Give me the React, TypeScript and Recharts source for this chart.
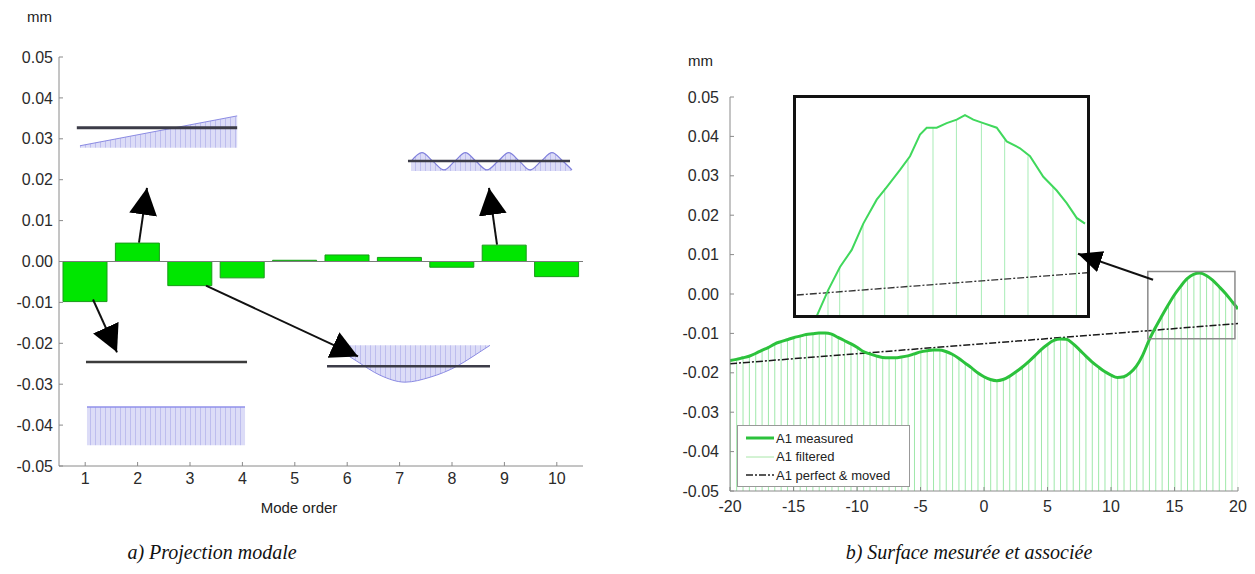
import React from 'react';
import { ComposedChart, Bar, Line, Area, XAxis, YAxis, ReferenceLine, ReferenceArea } from 'recharts';

// ---------- Left chart: modal projection ----------
const modeOrder = [1, 2, 3, 4, 5, 6, 7, 8, 9, 10];
const modeAmplitude = [-0.0098, 0.0045, -0.0059, -0.004, 0.0003, 0.0016, 0.001, -0.0014, 0.004, -0.0037];
const mmTicks = [0.05, 0.04, 0.03, 0.02, 0.01, 0, -0.01, -0.02, -0.03, -0.04, -0.05];
const modeTicks = [1, 2, 3, 4, 5, 6, 7, 8, 9, 10];

// Mode-shape sketches (x in mode-order units, y in mm)
const tiltRef = [{ x: 0.84, y: 0.0327 }, { x: 3.9, y: 0.0327 }];
const tiltShape = [{ x: 0.9, lo: 0.0278, hi: 0.0283 }, { x: 3.9, lo: 0.0278, hi: 0.0356 }];
const transRef = [{ x: 1.015, y: -0.0246 }, { x: 4.088, y: -0.0246 }];
const transShape = [{ x: 1.034, lo: -0.0449, hi: -0.0356 }, { x: 4.05, lo: -0.0449, hi: -0.0356 }];
const bowRef = [{ x: 5.615, y: -0.0256 }, { x: 8.725, y: -0.0256 }];
const bowX = [5.767, 6.187, 6.626, 7.103, 7.58, 8.095, 8.401, 8.725];
const bowLow = [-0.021, -0.0244, -0.0278, -0.0295, -0.0283, -0.0256, -0.0232, -0.0205];
const bowTop = -0.0205;
const waveRef = [{ x: 7.16, y: 0.0246 }, { x: 10.252, y: 0.0246 }];
const waveX = [7.218, 7.427, 7.637, 7.847, 8.05, 8.256, 8.458, 8.668, 8.878, 9.082, 9.288, 9.489, 9.698, 9.908, 10.118, 10.29];
const waveY = [0.0245, 0.0266, 0.0245, 0.0224, 0.0245, 0.0266, 0.0245, 0.0224, 0.0245, 0.0266, 0.0245, 0.0224, 0.0245, 0.0266, 0.0245, 0.0224];
const waveBase = 0.0221;

const arrowMode1 = [{ x: 1.149, y: -0.0093 }, { x: 1.607, y: -0.0222 }];
const arrowMode2 = [{ x: 2.027, y: 0.0046 }, { x: 2.179, y: 0.018 }];
const arrowMode3 = [{ x: 3.305, y: -0.0059 }, { x: 6.206, y: -0.0232 }];
const arrowMode9 = [{ x: 8.859, y: 0.0041 }, { x: 8.706, y: 0.018 }];

// ---------- Right chart: measured & associated surface ----------
const positions = [
  -20, -19.5, -19, -18.5, -18, -17.5, -17, -16.5, -16, -15.5, -15, -14.5, -14, -13.5, -13, -12.5, -12, -11.5, -11, -10.5,
  -10, -9.5, -9, -8.5, -8, -7.5, -7, -6.5, -6, -5.5, -5, -4.5, -4, -3.5, -3, -2.5, -2, -1.5, -1, -0.5,
  0, 0.5, 1, 1.5, 2, 2.5, 3, 3.5, 4, 4.5, 5, 5.5, 6, 6.5, 7, 7.5, 8, 8.5, 9, 9.5,
  10, 10.5, 11, 11.5, 12, 12.5, 13, 13.5, 14, 14.5, 15, 15.5, 16, 16.5, 17, 17.5, 18, 18.5, 19, 19.5, 20,
];
const measured = [
  -0.0169, -0.0166, -0.0162, -0.0158, -0.0151, -0.0143, -0.0136, -0.0127, -0.0121, -0.0116, -0.0111, -0.0107, -0.0103, -0.0101, -0.0099, -0.0099, -0.0102, -0.011, -0.0118, -0.0126,
  -0.0135, -0.0146, -0.0152, -0.0157, -0.0161, -0.0162, -0.0162, -0.016, -0.0157, -0.0152, -0.0147, -0.0144, -0.0142, -0.0142, -0.0146, -0.0153, -0.0163, -0.0175, -0.0187, -0.02,
  -0.021, -0.0217, -0.022, -0.0217, -0.0209, -0.0198, -0.0186, -0.0172, -0.0157, -0.0141, -0.0128, -0.0118, -0.0114, -0.0115, -0.0126, -0.0141, -0.0157, -0.0172, -0.0185, -0.0197,
  -0.0206, -0.0212, -0.021, -0.02, -0.0183, -0.0155, -0.0117, -0.0085, -0.0056, -0.0028, -0.0002, 0.002, 0.0039, 0.005, 0.0053, 0.0047, 0.0035, 0.0019, 0.0002, -0.0018, -0.0038,
];
const perfectMoved = [{ x: -20, y: -0.0177 }, { x: 20, y: -0.0075 }];
const posTicks = [-20, -15, -10, -5, 0, 5, 10, 15, 20];
const zoomBox = { x1: 12.9, x2: 19.76, y1: -0.01135, y2: 0.0057 };
const zoomArrow = [{ x: 13.31, y: 0.0036 }, { x: 7.4, y: 0.0102 }];

// Zoomed inset (x in mm position, y in mm)
const insetCurveX = [13.498, 13.777, 14.058, 14.34, 14.619, 14.941, 15.182, 15.502, 15.742, 15.983, 16.144, 16.385, 16.625, 16.866, 17.065, 17.265, 17.506, 17.828, 18.068, 18.388, 18.629, 18.949, 19.271, 19.512, 19.752, 19.952];
const insetCurveY = [-0.0121, -0.0098, -0.0078, -0.0063, -0.004, -0.0019, -0.0008, 0.0007, 0.0019, 0.0038, 0.0044, 0.0044, 0.0048, 0.0051, 0.0055, 0.0051, 0.0048, 0.0044, 0.0032, 0.0026, 0.0019, 0.0001, -0.0011, -0.0022, -0.0035, -0.004];
const insetStemX = [13.777, 14.058, 14.619, 15.141, 15.701, 16.303, 16.866, 17.467, 18.027, 18.588, 19.189, 19.752];
const insetStemY = [-0.0098, -0.0078, -0.004, -0.0009, 0.0016, 0.0044, 0.0051, 0.0048, 0.0033, 0.0019, -0.0008, -0.0035];
const insetPerfect = [{ x: 13.02, y: -0.01025 }, { x: 20, y: -0.0083 }];

const FONT = '"Liberation Sans", Arial, sans-serif';
const tickStyle = { fill: '#2a2a2a', fontSize: 16, fontFamily: FONT };
const axisGray = '#8a8a8a';
const fmt2 = (v: number) => v.toFixed(2);
const DASHDOT = '7 2 2 2';

const barRows = modeOrder.map((m, i) => ({ x: m, v: modeAmplitude[i] }));
const waveRows = waveX.map((x, i) => ({ x, lo: waveBase, hi: waveY[i], y: waveY[i] }));
const bowRows = bowX.map((x, i) => ({ x, lo: bowLow[i], hi: bowTop, y: bowLow[i] }));
const surfRows = positions.map((x, i) => ({ x, m: measured[i] }));
const insetCurve = insetCurveX.map((x, i) => ({ x, y: insetCurveY[i] }));
const insetStems = insetStemX.map((x, i) => ({ x, v: insetStemY[i] }));

const captionStyle: React.CSSProperties = {
  position: 'absolute', top: 541, textAlign: 'center', fontFamily: '"Liberation Serif", "Times New Roman", serif',
  fontStyle: 'italic', fontSize: 20, color: '#111', whiteSpace: 'nowrap',
};

export default function App() {
  return (
    <div style={{ position: 'absolute', left: 0, top: 0, width: 1255, height: 574, background: '#fff', fontFamily: FONT, overflow: 'hidden' }}>
      {/* ---------------- Left chart ---------------- */}
      <div style={{ position: 'absolute', left: 27, top: 8, fontSize: 15, color: '#222' }}>mm</div>
      <div style={{ position: 'absolute', left: 0, top: 0 }}>
        <ComposedChart width={600} height={530} data={barRows} margin={{ top: 57, right: 17, bottom: 34, left: 0 }}>
          <XAxis type="number" dataKey="x" domain={[0.5, 10.5]} ticks={modeTicks} height={30} tick={tickStyle}
            stroke={axisGray} tickSize={-4} tickMargin={11} allowDataOverflow />
          <YAxis type="number" domain={[-0.05, 0.05]} ticks={mmTicks} width={59} tick={tickStyle} tickFormatter={fmt2}
            stroke={axisGray} tickSize={-4} tickMargin={10} allowDataOverflow />
          <ReferenceLine y={0} stroke="#7a7a7a" strokeWidth={1.2} />
          <Bar dataKey="v" barSize={44} fill="#00e600" stroke="#1a9a1a" strokeWidth={1} isAnimationActive={false} />
        </ComposedChart>
      </div>
      {/* mode-shape sketches & arrows (same axes, hidden) */}
      <div style={{ position: 'absolute', left: 0, top: 0, pointerEvents: 'none' }}>
        <ComposedChart width={600} height={530} margin={{ top: 57, right: 17, bottom: 64, left: 59 }}>
          <defs>
            <pattern id="hatchL" width="5" height="10" patternUnits="userSpaceOnUse">
              <rect width="5" height="10" fill="#dcdcf7" />
              <line x1="0.5" y1="0" x2="0.5" y2="10" stroke="#bdbdee" strokeWidth="1" />
            </pattern>
            <marker id="arrowL" markerUnits="userSpaceOnUse" markerWidth="30" markerHeight="30" refX="27" refY="14" orient="auto">
              <path d="M0,0 L27,14 L0,28 Z" fill="#000" />
            </marker>
          </defs>
          <XAxis type="number" dataKey="x" domain={[0.5, 10.5]} hide allowDataOverflow />
          <YAxis type="number" domain={[-0.05, 0.05]} hide allowDataOverflow />

          <Area data={tiltShape} dataKey={(d: any) => [d.lo, d.hi]} type="linear" stroke="none" fill="url(#hatchL)" fillOpacity={1} isAnimationActive={false} />
          <Line data={tiltShape} dataKey="hi" type="linear" stroke="#8b8be3" strokeWidth={1} dot={false} isAnimationActive={false} />
          <Line data={tiltRef} dataKey="y" type="linear" stroke="#3c3c48" strokeWidth={3} dot={false} isAnimationActive={false} />

          <Area data={transShape} dataKey={(d: any) => [d.lo, d.hi]} type="linear" stroke="none" fill="url(#hatchL)" fillOpacity={1} isAnimationActive={false} />
          <Line data={transShape} dataKey="hi" type="linear" stroke="#9191ea" strokeWidth={1.5} dot={false} isAnimationActive={false} />
          <Line data={transRef} dataKey="y" type="linear" stroke="#3c3c3c" strokeWidth={2.5} dot={false} isAnimationActive={false} />

          <Area data={bowRows} dataKey={(d: any) => [d.lo, d.hi]} type="monotone" stroke="none" fill="url(#hatchL)" fillOpacity={1} isAnimationActive={false} />
          <Line data={bowRows} dataKey="y" type="monotone" stroke="#8b8be3" strokeWidth={1} dot={false} isAnimationActive={false} />
          <Line data={bowRef} dataKey="y" type="linear" stroke="#3c3c48" strokeWidth={2.5} dot={false} isAnimationActive={false} />

          <Area data={waveRows} dataKey={(d: any) => [d.lo, d.hi]} type="monotone" stroke="none" fill="url(#hatchL)" fillOpacity={1} isAnimationActive={false} />
          <Line data={waveRows} dataKey="y" type="monotone" stroke="#8080dc" strokeWidth={1.2} dot={false} isAnimationActive={false} />
          <Line data={waveRef} dataKey="y" type="linear" stroke="#3c3c48" strokeWidth={2.5} dot={false} isAnimationActive={false} />

          <Line data={arrowMode1} dataKey="y" type="linear" stroke="#111" strokeWidth={2} dot={false} markerEnd="url(#arrowL)" isAnimationActive={false} />
          <Line data={arrowMode2} dataKey="y" type="linear" stroke="#111" strokeWidth={2} dot={false} markerEnd="url(#arrowL)" isAnimationActive={false} />
          <Line data={arrowMode3} dataKey="y" type="linear" stroke="#111" strokeWidth={2} dot={false} markerEnd="url(#arrowL)" isAnimationActive={false} />
          <Line data={arrowMode9} dataKey="y" type="linear" stroke="#111" strokeWidth={2} dot={false} markerEnd="url(#arrowL)" isAnimationActive={false} />
        </ComposedChart>
      </div>
      <div style={{ position: 'absolute', left: 244, top: 499, width: 110, textAlign: 'center', fontSize: 15, color: '#222' }}>Mode order</div>

      {/* ---------------- Right chart ---------------- */}
      <div style={{ position: 'absolute', left: 688, top: 52, fontSize: 15, color: '#222' }}>mm</div>
      <div style={{ position: 'absolute', left: 640, top: 40 }}>
        <ComposedChart width={615} height={490} data={surfRows} margin={{ top: 57, right: 17, bottom: 9, left: 30 }}>
          <XAxis type="number" dataKey="x" domain={[-20, 20]} ticks={posTicks} height={30} tick={tickStyle}
            stroke={axisGray} tickSize={-4} tickMargin={14} allowDataOverflow />
          <YAxis type="number" domain={[-0.05, 0.05]} ticks={mmTicks} width={60} tick={tickStyle} tickFormatter={fmt2}
            stroke={axisGray} tickSize={-4} tickMargin={15} allowDataOverflow />
          <Bar dataKey={(d: any) => [-0.05, d.m]} barSize={1} fill="#9fe8aa" isAnimationActive={false} />
          <Line data={perfectMoved} dataKey="y" type="linear" stroke="#1a1a1a" strokeWidth={1.5} strokeDasharray={DASHDOT} dot={false} isAnimationActive={false} />
          <Line dataKey="m" type="monotone" stroke="#2cc23c" strokeWidth={3} dot={false} isAnimationActive={false} />
        </ComposedChart>
      </div>

      {/* zoomed inset */}
      <div style={{ position: 'absolute', left: 793, top: 95, width: 297, height: 223, border: '3px solid #111', boxSizing: 'border-box', background: '#fff' }}>
        <ComposedChart width={291} height={217} data={insetStems} margin={{ top: 0, right: 0, bottom: 0, left: 0 }}>
          <XAxis type="number" dataKey="x" domain={[13, 20]} hide allowDataOverflow />
          <YAxis type="number" domain={[-0.012, 0.007]} hide allowDataOverflow />
          <Bar dataKey={(d: any) => [-0.012, d.v]} barSize={1} fill="#a8ecb6" isAnimationActive={false} />
          <Line data={insetPerfect} dataKey="y" type="linear" stroke="#333" strokeWidth={1.3} strokeDasharray={DASHDOT} dot={false} isAnimationActive={false} />
          <Line data={insetCurve} dataKey="y" type="linear" stroke="#40d85c" strokeWidth={2} dot={false} isAnimationActive={false} />
        </ComposedChart>
      </div>

      {/* overlay: zoom box + arrow */}
      <div style={{ position: 'absolute', left: 640, top: 40, pointerEvents: 'none' }}>
        <ComposedChart width={615} height={490} margin={{ top: 57, right: 17, bottom: 39, left: 90 }}>
          <defs>
            <marker id="arrowR" markerUnits="userSpaceOnUse" markerWidth="28" markerHeight="28" refX="24" refY="11" orient="auto">
              <path d="M0,0 L24,11 L0,22 Z" fill="#000" />
            </marker>
          </defs>
          <XAxis type="number" dataKey="x" domain={[-20, 20]} hide allowDataOverflow />
          <YAxis type="number" domain={[-0.05, 0.05]} hide allowDataOverflow />
          <ReferenceArea x1={zoomBox.x1} x2={zoomBox.x2} y1={zoomBox.y1} y2={zoomBox.y2} fill="none" fillOpacity={0} stroke="#8a8a8a" strokeWidth={1.5} />
          <Line data={zoomArrow} dataKey="y" type="linear" stroke="#111" strokeWidth={2} dot={false} markerEnd="url(#arrowR)" isAnimationActive={false} />
        </ComposedChart>
      </div>

      {/* legend */}
      <div style={{ position: 'absolute', left: 737, top: 425, width: 173, height: 62, border: '1px solid #999', boxSizing: 'border-box', background: '#fff', fontSize: 13, color: '#222' }}>
        {[
          { label: 'A1 measured', stroke: '#2cc23c', w: 3, dash: undefined as string | undefined },
          { label: 'A1 filtered', stroke: '#a8e6a8', w: 1, dash: undefined },
          { label: 'A1 perfect & moved', stroke: '#222', w: 1.4, dash: DASHDOT },
        ].map((e, i) => (
          <div key={i} style={{ position: 'absolute', left: 0, top: 3 + i * 18.5, height: 18, display: 'flex', alignItems: 'center', whiteSpace: 'nowrap' }}>
            <svg width={38} height={18}>
              <line x1={8} y1={9} x2={36} y2={9} stroke={e.stroke} strokeWidth={e.w} strokeDasharray={e.dash} />
            </svg>
            <span>{e.label}</span>
          </div>
        ))}
      </div>

      {/* captions */}
      <div style={{ ...captionStyle, left: 62, width: 300 }}>a) Projection modale</div>
      <div style={{ ...captionStyle, left: 769, width: 400 }}>b) Surface mesurée et associée</div>
    </div>
  );
}
